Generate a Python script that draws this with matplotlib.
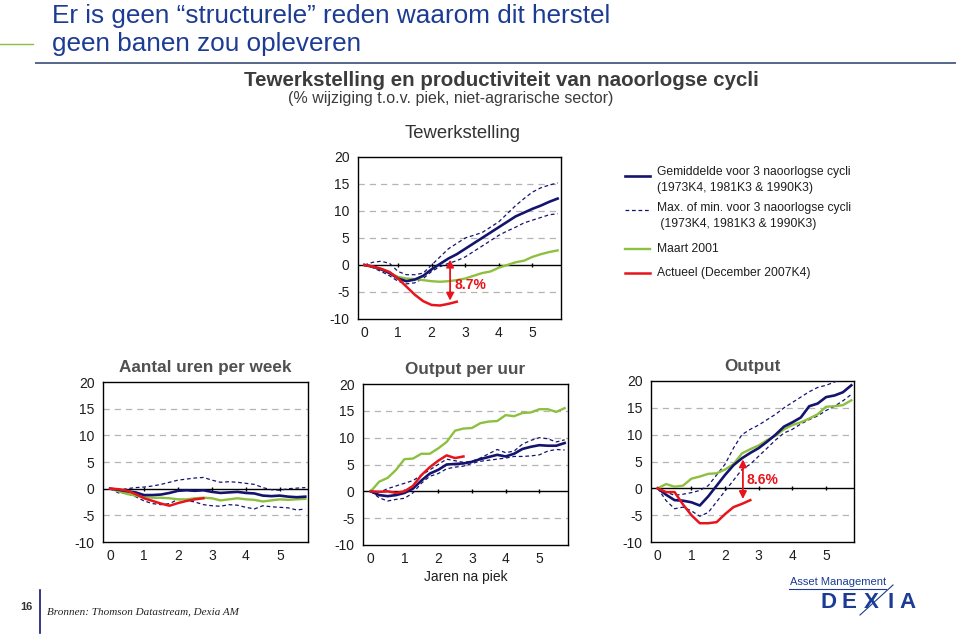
import numpy as np
import matplotlib
matplotlib.use("Agg")
import matplotlib.pyplot as plt
from matplotlib.lines import Line2D

plt.rcParams['font.family'] = ['Liberation Sans', 'DejaVu Sans']

# ---------------- data (quarters after peak) ----------------
jaren = np.arange(24) / 4.0
jaren_act = np.arange(12) / 4.0

tew_gem = [0, -0.3, -0.8, -1.5, -2.5, -3.0, -2.7, -2.0, -0.8, 0.2, 1.2, 2.0,
           3.0, 4.0, 5.0, 6.0, 7.0, 8.0, 9.0, 9.7, 10.4, 11.0, 11.7, 12.3]
tew_max = [0, 0.5, 0.7, 0.3, -1.2, -1.8, -1.8, -1.5, 0.0, 1.5, 3.0, 4.0,
           5.0, 5.5, 6.0, 7.0, 8.0, 9.5, 11.0, 12.3, 13.5, 14.3, 14.8, 15.2]
tew_min = [0, -0.5, -1.2, -2.0, -3.0, -3.5, -3.3, -2.5, -1.2, -0.3, 0.3, 0.8,
           1.5, 2.5, 3.5, 4.5, 5.5, 6.3, 7.0, 7.8, 8.3, 8.8, 9.3, 9.5]
tew_2001 = [0, -0.3, -0.8, -1.5, -2.2, -2.5, -2.6, -2.8, -3.0, -3.1, -3.0, -2.8,
            -2.5, -2.0, -1.5, -1.2, -0.5, 0.0, 0.5, 0.8, 1.5, 2.0, 2.4, 2.7]
tew_act = [0, -0.3, -0.7, -1.3, -2.5, -4.0, -5.5, -6.7, -7.4, -7.5, -7.2, -6.8]

uren_gem = [0, -0.2, -0.5, -0.7, -1.2, -1.2, -1.1, -0.8, -0.4, -0.3, -0.4, -0.3,
            -0.6, -0.8, -0.7, -0.6, -0.8, -0.9, -1.3, -1.4, -1.3, -1.5, -1.6, -1.5]
uren_max = [0, -0.3, 0.0, 0.2, 0.3, 0.5, 0.8, 1.2, 1.6, 1.8, 2.0, 2.1,
            1.6, 1.2, 1.3, 1.2, 1.0, 0.8, 0.2, -0.2, -0.3, 0.0, 0.1, 0.2]
uren_min = [0, -0.8, -0.9, -1.5, -2.3, -2.8, -3.0, -2.8, -2.0, -2.2, -2.5, -3.0,
            -3.2, -3.3, -3.0, -3.1, -3.5, -3.8, -3.2, -3.4, -3.5, -3.6, -4.0, -3.8]
uren_2001 = [0, -0.5, -1.0, -1.3, -1.6, -1.7, -1.7, -1.8, -2.0, -2.0, -1.8, -1.7,
             -1.8, -2.2, -2.0, -1.8, -2.0, -2.1, -2.4, -2.2, -2.0, -2.1, -2.0, -1.9]
uren_act = [0, -0.1, -0.4, -1.0, -1.8, -2.3, -2.8, -3.2, -2.7, -2.3, -2.0, -1.8]

opu_gem = [0, -0.7, -0.9, -0.7, -0.3, 0.5, 2.0, 3.3, 4.0, 5.0, 5.1, 5.2,
           5.5, 6.0, 6.4, 6.8, 6.5, 7.0, 7.9, 8.3, 8.6, 8.5, 8.5, 9.0]
opu_max = [0, -0.2, 0.5, 1.0, 1.5, 2.0, 3.0, 4.0, 5.0, 6.0, 5.7, 5.4,
           5.6, 6.2, 7.0, 7.8, 7.2, 7.5, 8.8, 9.5, 10.0, 9.8, 9.2, 9.6]
opu_min = [0, -1.2, -1.8, -1.5, -1.3, -0.3, 1.5, 2.8, 3.3, 4.2, 4.5, 4.7,
           5.2, 5.6, 5.8, 6.0, 6.2, 6.5, 6.5, 6.6, 6.8, 7.5, 7.8, 7.7]
opu_2001 = [0, 1.8, 2.5, 4.0, 6.0, 6.1, 7.0, 7.0, 8.0, 9.2, 11.3, 11.7,
            11.8, 12.7, 13.0, 13.1, 14.2, 14.0, 14.6, 14.7, 15.3, 15.3, 14.8, 15.5]
opu_act = [0, -0.1, 0.0, -0.3, 0.0, 1.0, 3.0, 4.5, 5.7, 6.7, 6.2, 6.5]

out_gem = [0, -1.2, -2.2, -2.3, -2.6, -3.2, -1.5, 0.5, 2.5, 4.3, 5.6, 6.6,
           7.5, 8.7, 10.0, 11.5, 12.3, 13.2, 15.3, 15.8, 17.0, 17.3, 17.9, 19.2]
out_max = [0, -0.7, -1.3, -1.1, -0.8, -0.4, 0.5, 2.5, 4.5, 7.5, 10.0, 11.0,
           11.8, 12.8, 13.8, 15.0, 16.0, 17.0, 18.0, 18.8, 19.2, 19.8, 20.5, 21.3]
out_min = [0, -2.3, -3.8, -3.5, -4.2, -5.2, -4.5, -2.5, -0.5, 1.5, 3.5, 4.5,
           6.0, 7.5, 9.0, 10.3, 11.0, 12.0, 12.8, 13.5, 14.5, 15.3, 16.3, 17.5]
out_2001 = [0, 0.8, 0.3, 0.5, 1.8, 2.2, 2.7, 2.8, 3.5, 4.5, 6.5, 7.3,
            8.0, 9.0, 9.8, 11.0, 11.8, 12.3, 13.0, 13.8, 15.2, 15.3, 15.5, 16.4]
out_act = [0, -0.7, -0.7, -3.0, -5.0, -6.5, -6.5, -6.3, -4.8, -3.5, -2.9, -2.2]

yticks = [-10, -5, 0, 5, 10, 15, 20]
ytick_labels = ['-10', '-5', '0', '5', '10', '15', '20']
xticks = [0, 1, 2, 3, 4, 5]
xtick_labels = ['0', '1', '2', '3', '4', '5']

# arrows (gap annotations)
gap_tew = {'x': 2.55, 'top': 1.0, 'bottom': -6.6, 'label': '8.7%', 'ty': -3.7}
gap_out = {'x': 2.53, 'top': 5.4, 'bottom': -2.0, 'label': '8.6%', 'ty': 1.5}

legend_labels = ['Gemiddelde voor 3 naoorlogse cycli\n(1973K4, 1981K3 & 1990K3)',
                 'Max. of min. voor 3 naoorlogse cycli\n (1973K4, 1981K3 & 1990K3)',
                 'Maart 2001', 'Actueel (December 2007K4)']

# ---------------- styles ----------------
NAVY = '#14146e'
GREEN = '#8dc03f'
RED = '#e8141c'
GRID = '#b4b4b4'
TXT = '#1e1e1e'
TITLE_GREY = '#505050'
HEAD_BLUE = '#1c3c94'

W, H = 959, 635
fig = plt.figure(figsize=(W / 100, H / 100), dpi=100)


def ax_px(l, r, t, b):
    return fig.add_axes([l / W, 1 - b / H, (r - l) / W, (b - t) / H])


def style_ax(ax, xmin, xmax):
    ax.set_xlim(xmin, xmax)
    ax.set_ylim(-10, 20)
    ax.set_yticks(yticks)
    ax.set_yticklabels(ytick_labels)
    ax.set_xticks(xticks)
    ax.set_xticklabels(xtick_labels)
    ax.tick_params(axis='both', length=0, labelsize=10, colors=TXT)
    ax.tick_params(axis='y', pad=6)
    ax.tick_params(axis='x', pad=5)
    for sp in ax.spines.values():
        sp.set_color('black')
        sp.set_linewidth(1.0)
    for g in [-5, 5, 10, 15]:
        ax.axhline(g, color=GRID, lw=0.9, ls=(0, (5, 4)), zorder=1)
    ax.axhline(0, color='black', lw=1.0, zorder=2)
    ax.plot(xticks[1:], [0] * 5, ls='none', marker='|', ms=3, mew=1.0,
            color='black', zorder=2)


def draw_series(ax, gem, mx, mn, s2001, act):
    ax.plot(jaren, mx, color=NAVY, lw=0.9, ls=(0, (3, 2.2)), zorder=3)
    ax.plot(jaren, mn, color=NAVY, lw=0.9, ls=(0, (3, 2.2)), zorder=3)
    ax.plot(jaren, s2001, color=GREEN, lw=1.7, zorder=4)
    ax.plot(jaren, gem, color=NAVY, lw=1.9, zorder=5)
    ax.plot(jaren_act, act, color=RED, lw=1.8, zorder=6)


def gap_arrow(ax, g):
    ax.annotate('', xy=(g['x'], g['bottom']), xytext=(g['x'], g['top']),
                arrowprops=dict(arrowstyle='<|-|>', color=RED, lw=1.3,
                                mutation_scale=11, shrinkA=0, shrinkB=0),
                zorder=7)
    ax.text(g['x'] + 0.12, g['ty'], g['label'], color=RED, fontsize=10,
            fontweight='bold', va='center', ha='left', zorder=7)


# top panel: Tewerkstelling
ax0 = ax_px(358, 561, 157, 319)
style_ax(ax0, -0.19, 5.85)
draw_series(ax0, tew_gem, tew_max, tew_min, tew_2001, tew_act)
gap_arrow(ax0, gap_tew)
fig.text(463 / W, 1 - 133 / H, 'Tewerkstelling', ha='center', va='center',
         fontsize=13.3, color='#333333')

# bottom panels
ax1 = ax_px(103, 308, 382, 542)
style_ax(ax1, -0.21, 5.83)
draw_series(ax1, uren_gem, uren_max, uren_min, uren_2001, uren_act)
ax2 = ax_px(363, 568, 384, 545)
style_ax(ax2, -0.23, 5.85)
draw_series(ax2, opu_gem, opu_max, opu_min, opu_2001, opu_act)
ax3 = ax_px(651, 854, 381, 542)
style_ax(ax3, -0.2, 5.83)
draw_series(ax3, out_gem, out_max, out_min, out_2001, out_act)
gap_arrow(ax3, gap_out)

for ax, title in [(ax1, 'Aantal uren per week'), (ax2, 'Output per uur'),
                  (ax3, 'Output')]:
    ax.set_title(title, fontsize=12.3, fontweight='bold', color=TITLE_GREY,
                 pad=7)
ax2.set_xlabel('Jaren na piek', fontsize=10, color=TXT, labelpad=3)

# legend (manual, to match slide layout)
leg_rows = [(176, 180), (210, 216), (249, 249), (273, 273)]
leg_styles = [dict(color=NAVY, lw=1.9), dict(color=NAVY, lw=0.9, ls=(0, (3, 2.2))),
              dict(color=GREEN, lw=1.7), dict(color=RED, lw=1.8)]
for (ly, ty), st, lab in zip(leg_rows, leg_styles, legend_labels):
    fig.add_artist(Line2D([625 / W, 650 / W], [1 - ly / H, 1 - ly / H], **st))
    fig.text(657 / W, 1 - ty / H, lab, ha='left', va='center', fontsize=8.7,
             color=TXT, linespacing=1.45)

# slide header
fig.text(52 / W, 1 - 16 / H, 'Er is geen \u201cstructurele\u201d reden waarom dit herstel',
         ha='left', va='center', fontsize=18.8, color=HEAD_BLUE)
fig.text(52 / W, 1 - 44 / H, 'geen banen zou opleveren', ha='left', va='center',
         fontsize=18.8, color=HEAD_BLUE)
fig.add_artist(Line2D([0, 33 / W], [1 - 44 / H, 1 - 44 / H], color=GREEN, lw=1.0))
fig.add_artist(Line2D([36 / W, 955 / W], [1 - 63 / H, 1 - 63 / H], color='#56668c', lw=1.4))
fig.text(501 / W, 1 - 80 / H, 'Tewerkstelling en productiviteit van naoorlogse cycli',
         ha='center', va='center', fontsize=14.8, fontweight='bold', color='#3c3c3c')
fig.text(288 / W, 1 - 99 / H, '(% wijziging t.o.v. piek, niet-agrarische sector)',
         ha='left', va='center', fontsize=11.5, color='#3c3c3c')

# footer
fig.text(26 / W, 1 - 607 / H, '16', ha='center', va='center', fontsize=8,
         fontweight='bold', color='#333333')
fig.add_artist(Line2D([40 / W, 40 / W], [1 - 590 / H, 1 - 633 / H], color=NAVY, lw=1.2))
fig.text(47 / W, 1 - 612 / H, 'Bronnen: Thomson Datastream, Dexia AM', ha='left',
         va='center', fontsize=8, style='italic', color='#222222',
         family=['Liberation Serif', 'DejaVu Serif'])
fig.text(838 / W, 1 - 582 / H, 'Asset Management', ha='center', va='center',
         fontsize=8, color=HEAD_BLUE)
fig.add_artist(Line2D([789 / W, 886 / W], [1 - 589 / H, 1 - 589 / H], color=HEAD_BLUE, lw=0.8))
for ch, xp in zip('DEXIA', [828, 849, 871, 891, 908]):
    fig.text(xp / W, 1 - 602 / H, ch, ha='center', va='center', fontsize=16,
             fontweight='bold', color=HEAD_BLUE)
fig.add_artist(Line2D([860 / W, 893 / W], [1 - 615 / H, 1 - 585 / H], color=HEAD_BLUE, lw=0.8))

fig.savefig('out.png', dpi=100)
